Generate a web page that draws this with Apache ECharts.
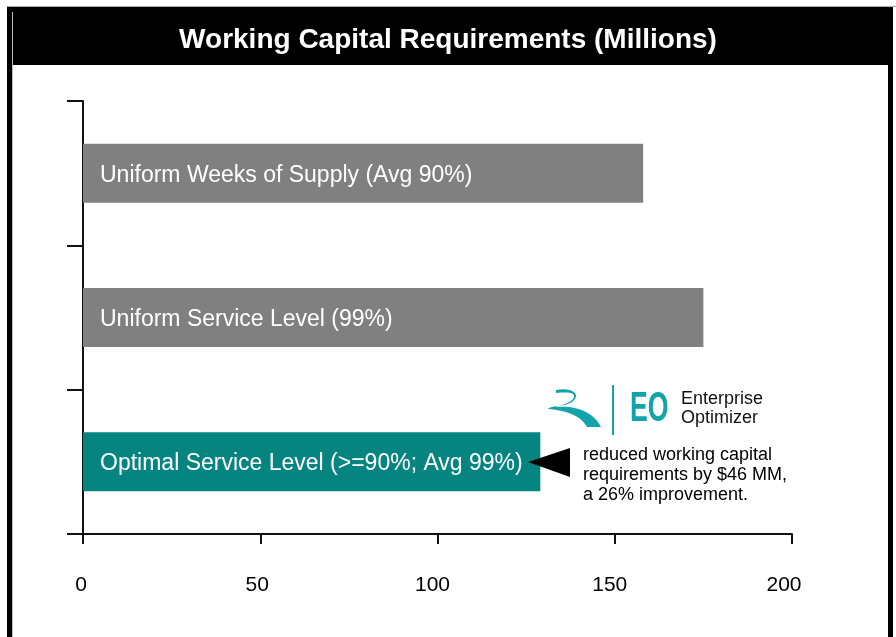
<!DOCTYPE html>
<html>
<head>
<meta charset="utf-8">
<script src="https://cdn.jsdelivr.net/npm/echarts@6/dist/echarts.min.js"></script>
<style>
html,body{margin:0;padding:0;background:#fff;}
#chart{width:896px;height:637px;}
</style>
</head>
<body>
<div id="chart"></div>
<script>
const categories = [
  'Uniform Weeks of Supply (Avg 90%)',
  'Uniform Service Level (99%)',
  'Optimal Service Level (>=90%; Avg 99%)'
];
const values = [158, 175, 129];
const xTicks = [0, 50, 100, 150, 200];
const titleText = 'Working Capital Requirements (Millions)';
const noteLines = ['reduced working capital', 'requirements by $46 MM,', 'a 26% improvement.'];
const logoLines = ['Enterprise', 'Optimizer'];

const FONT = '"Liberation Sans", Arial, sans-serif';
const GRAY = '#808080';
const TEAL = '#068480';
const LOGO = '#12a3ab';

// small leftward nudge of each tick label, as in the reference
const labelNudge = [2, 3, 5, 5, 8];

function cubicPoints(p0, p1, p2, p3, n) {
  const pts = [];
  for (let i = 1; i <= n; i++) {
    const t = i / n, u = 1 - t;
    pts.push([
      u*u*u*p0[0] + 3*u*u*t*p1[0] + 3*u*t*t*p2[0] + t*t*t*p3[0],
      u*u*u*p0[1] + 3*u*u*t*p1[1] + 3*u*t*t*p2[1] + t*t*t*p3[1]
    ]);
  }
  return pts;
}
function swooshPoints() {
  const segs = [
    [[556,390],[572,387],[582,394],[572,402]],
    [[572,402],[564,407],[551,405],[548,409]],
    [[548,409],[562,410],[580,414],[587,427]],
    [[587,427],[592,427],[597,427],[601,427]],
    [[601,427],[594,413],[578,405],[555,407]],
    [[555,407],[562,405],[573,402],[574,397]],
    [[574,397],[575,392],[566,392],[556,393]],
    [[556,393],[556,392],[556,391],[556,390]]
  ];
  let pts = [[556,390]];
  segs.forEach(s => { pts = pts.concat(cubicPoints(s[0], s[1], s[2], s[3], 12)); });
  return pts;
}

const rich = {};
labelNudge.forEach((n, i) => {
  rich['t' + i] = {fontSize: 21, fontFamily: FONT, color: '#000', padding: [0, 2 * n, 0, 0]};
});

const chart = echarts.init(document.getElementById('chart'), null, {renderer: 'canvas'});

const option = {
  backgroundColor: '#ffffff',
  animation: false,
  title: {
    text: titleText,
    left: 'center',
    top: 21,
    z: 10,
    textStyle: {color: '#ffffff', fontSize: 28, fontWeight: 'bold', fontFamily: FONT}
  },
  grid: {left: 83, right: 104, top: 101, bottom: 103, containLabel: false},
  xAxis: {
    type: 'value',
    min: xTicks[0],
    max: xTicks[xTicks.length - 1],
    interval: xTicks[1] - xTicks[0],
    axisLine: {show: true, lineStyle: {color: '#111', width: 2}},
    axisTick: {show: true, length: 10, lineStyle: {color: '#111', width: 2}},
    splitLine: {show: false},
    axisLabel: {
      margin: 41, color: '#000', fontSize: 21, fontFamily: FONT,
      formatter: function (v) {
        const i = xTicks.indexOf(v);
        return i >= 0 ? '{t' + i + '|' + v + '}' : String(v);
      },
      rich: rich
    }
  },
  yAxis: {
    type: 'category',
    inverse: true,
    data: categories,
    axisLine: {show: true, lineStyle: {color: '#111', width: 2}},
    axisTick: {show: true, length: 16, lineStyle: {color: '#111', width: 2}},
    axisLabel: {show: false},
    splitLine: {show: false}
  },
  series: [{
    type: 'bar',
    data: values,
    barWidth: 59,
    itemStyle: {
      color: function (p) { return p.dataIndex === 2 ? TEAL : GRAY; }
    },
    label: {
      show: true,
      position: 'insideLeft',
      distance: 17,
      offset: [0, 2],
      formatter: function (p) { return categories[p.dataIndex]; },
      color: '#ffffff',
      fontSize: 23,
      fontFamily: FONT
    },
    z: 2
  }],
  graphic: [
    {type: 'rect', z: 0, shape: {x: 7, y: 7, width: 886, height: 58}, style: {fill: '#000'}},
    {type: 'rect', z: 0, shape: {x: 7, y: 6, width: 889, height: 1}, style: {fill: '#aaaaaa'}},
    {type: 'rect', z: 0, shape: {x: 7, y: 7, width: 5, height: 630}, style: {fill: '#000'}},
    {type: 'rect', z: 0, shape: {x: 12, y: 12, width: 1, height: 625}, style: {fill: '#bbbbbb'}},
    {type: 'rect', z: 0, shape: {x: 888, y: 7, width: 5, height: 630}, style: {fill: '#000'}},
    {type: 'polygon', z: 100, shape: {points: [[528, 462], [570, 448], [570, 477]]}, style: {fill: '#000'}},
    {type: 'text', z: 100, x: 583, y: 445, style: {
      text: noteLines.join('\n'), fill: '#000', font: '18px ' + FONT, lineHeight: 20,
      textAlign: 'left', textVerticalAlign: 'top'
    }},
    {type: 'polygon', z: 100, shape: {points: swooshPoints()}, style: {fill: LOGO}},
    {type: 'rect', z: 100, shape: {x: 612, y: 385, width: 2, height: 50}, style: {fill: LOGO}},
    {type: 'text', z: 100, x: 630, y: 409, scaleX: 0.62, style: {
      text: 'EO', fill: LOGO, font: 'bold 43px ' + FONT, textAlign: 'left', textVerticalAlign: 'middle'
    }},
    {type: 'text', z: 100, x: 681, y: 390, style: {
      text: logoLines.join('\n'), fill: '#111', font: '18px ' + FONT, lineHeight: 19,
      textAlign: 'left', textVerticalAlign: 'top'
    }}
  ]
};
chart.setOption(option);
</script>
</body>
</html>
